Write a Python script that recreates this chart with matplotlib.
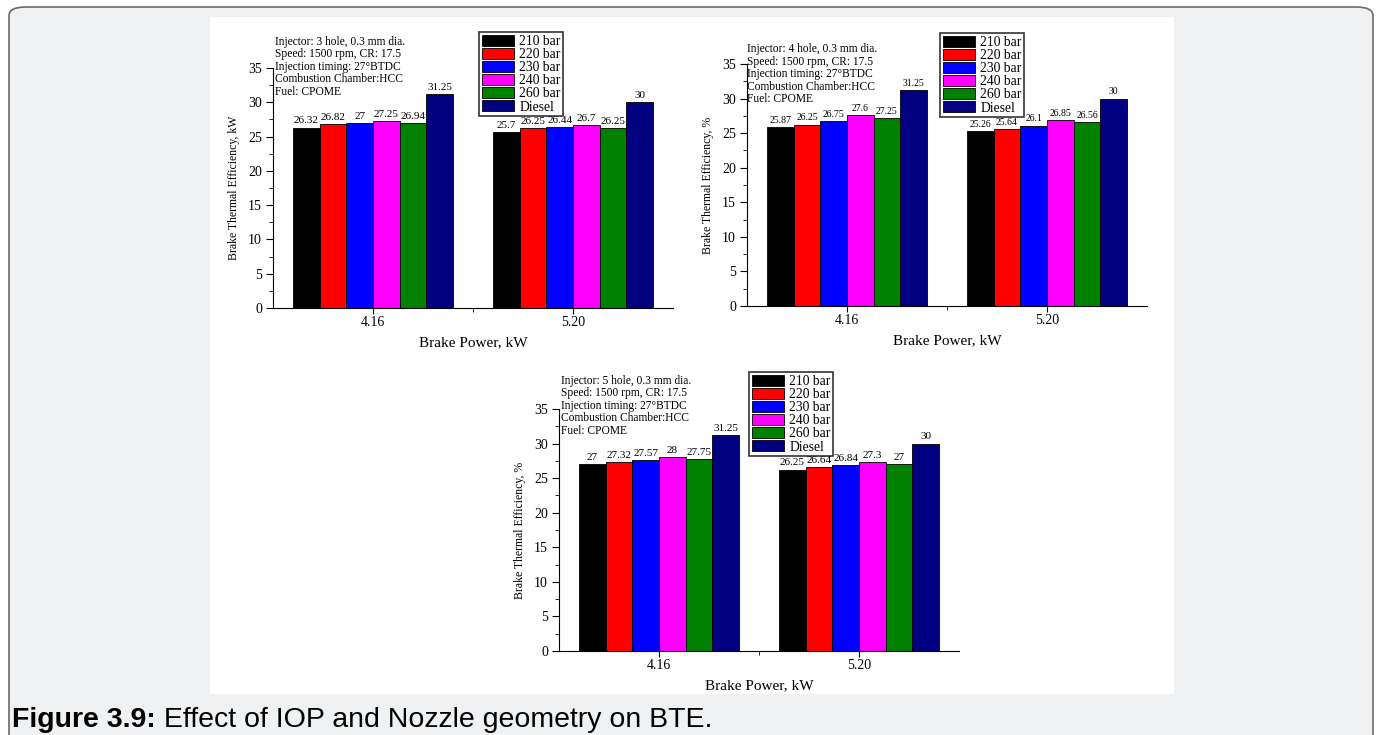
import matplotlib
matplotlib.use("Agg")
import matplotlib.pyplot as plt
import numpy as np
from matplotlib.patches import FancyBboxPatch, Rectangle

plt.rcParams['font.family'] = ['Liberation Serif', 'DejaVu Serif']

# ---- data ----
power_labels = ["4.16", "5.20"]
series_names = ["210 bar", "220 bar", "230 bar", "240 bar", "260 bar", "Diesel"]
series_colors = ["#000000", "#ff0000", "#0000ff", "#ff00ff", "#008000", "#000080"]

# brake thermal efficiency: rows = series, columns = brake power
bte_3hole = [[26.32, 25.7], [26.82, 26.25], [27, 26.44], [27.25, 26.7], [26.94, 26.25], [31.25, 30]]
bte_4hole = [[25.87, 25.26], [26.25, 25.64], [26.75, 26.1], [27.6, 26.85], [27.25, 26.56], [31.25, 30]]
bte_5hole = [[27, 26.25], [27.32, 26.64], [27.57, 26.84], [28, 27.3], [27.75, 27], [31.25, 30]]

notes_3hole = ["Injector: 3 hole, 0.3 mm dia.", "Speed: 1500 rpm, CR: 17.5",
               "Injection timing: 27°BTDC", "Combustion Chamber:HCC", "Fuel: CPOME"]
notes_4hole = ["Injector: 4 hole, 0.3 mm dia.", "Speed: 1500 rpm, CR: 17.5",
               "Injection timing: 27°BTDC", "Combustion Chamber:HCC", "Fuel: CPOME"]
notes_5hole = ["Injector: 5 hole, 0.3 mm dia.", "Speed: 1500 rpm, CR: 17.5",
               "Injection timing: 27°BTDC", "Combustion Chamber:HCC", "Fuel: CPOME"]

ylabel_3hole = "Brake Thermal Efficiency, kW"
ylabel_other = "Brake Thermal Efficiency, %"
xlabel = "Brake Power, kW"
caption_bold = "Figure 3.9:"
caption_rest = " Effect of IOP and Nozzle geometry on BTE."

W, H = 1380, 735
fig = plt.figure(figsize=(W / 100, H / 100), dpi=100)


def fx(px):
    return px / W


def fy(py):
    return 1 - py / H


# page background: rounded grey card with a white figure area
fig.patches.append(FancyBboxPatch((fx(9), fy(760)), fx(1364), fy(7) - fy(760),
                                  boxstyle="round,pad=0,rounding_size=0.012",
                                  transform=fig.transFigure, facecolor="#f0f1f3",
                                  edgecolor="#6a6a6a", linewidth=1.2, zorder=-10))
fig.patches.append(Rectangle((fx(210), fy(694)), fx(964), fy(17) - fy(694),
                             transform=fig.transFigure, facecolor="white",
                             edgecolor="none", zorder=-9))


def draw_panel(rect, values, notes, ylabel, legend_xy, notes_x, notes_top, vfs):
    ax = fig.add_axes(rect)
    x = np.arange(len(power_labels))
    n = len(series_names)
    w = 0.8 / n
    for i in range(n):
        pos = x - 0.4 + w * (i + 0.5)
        ax.bar(pos, values[i], width=w, color=series_colors[i], edgecolor="black",
               linewidth=0.6, label=series_names[i])
        for j in range(len(x)):
            ax.text(pos[j], values[i][j] + 0.3, f"{values[i][j]:g}", ha="center",
                    va="bottom", fontsize=vfs)
    ax.set_xlim(-0.5, 1.5)
    ax.set_ylim(0, 35)
    ax.spines["top"].set_visible(False)
    ax.spines["right"].set_visible(False)
    ax.set_yticks(np.arange(0, 36, 5))
    ax.set_yticks(np.arange(2.5, 35, 5), minor=True)
    ax.set_xticks(x)
    ax.set_xticklabels(power_labels)
    ax.set_xticks([0.5], minor=True)
    ax.tick_params(axis="y", which="major", direction="out", length=5, labelsize=10, pad=3)
    ax.tick_params(axis="y", which="minor", direction="out", length=3)
    ax.tick_params(axis="x", which="major", direction="inout", length=8, labelsize=10, pad=2)
    ax.tick_params(axis="x", which="minor", direction="out", length=3)
    ax.set_ylabel(ylabel, fontsize=8.5, labelpad=6)
    ax.set_xlabel(xlabel, fontsize=11, labelpad=5)
    leg = ax.legend(loc="upper left", bbox_to_anchor=legend_xy, bbox_transform=fig.transFigure,
                    fontsize=9.8, frameon=True, fancybox=False, edgecolor="black",
                    handlelength=2.4, handleheight=0.85, labelspacing=0.0, handletextpad=0.35,
                    borderpad=0.2, borderaxespad=0)
    leg.get_frame().set_linewidth(1.2)
    for k, line in enumerate(notes):
        fig.text(notes_x, fy(notes_top + 12.5 * k), line, ha="left", va="center",
                 fontsize=8.3)
    return ax


draw_panel([fx(273), fy(308), fx(400), fy(68) - fy(308)], bte_3hole, notes_3hole,
           ylabel_3hole, (fx(479), fy(32)), fx(275), 41.7, 8)
draw_panel([fx(747), fy(306), fx(400), fy(64) - fy(306)], bte_4hole, notes_4hole,
           ylabel_other, (fx(940), fy(33)), fx(747), 49.3, 7)
draw_panel([fx(559), fy(651), fx(400), fy(409) - fy(651)], bte_5hole, notes_5hole,
           ylabel_other, (fx(749), fy(372)), fx(561), 380.7, 8)

# caption
t = fig.text(fx(12), fy(727), caption_bold, ha="left", va="baseline", fontsize=20.5,
             fontweight="bold", family="Liberation Sans")
fig.canvas.draw()
bb = t.get_window_extent()
fig.text(bb.x1 / W, fy(727), caption_rest, ha="left", va="baseline", fontsize=20.5,
         family="Liberation Sans")

fig.savefig("out.png", dpi=100)
